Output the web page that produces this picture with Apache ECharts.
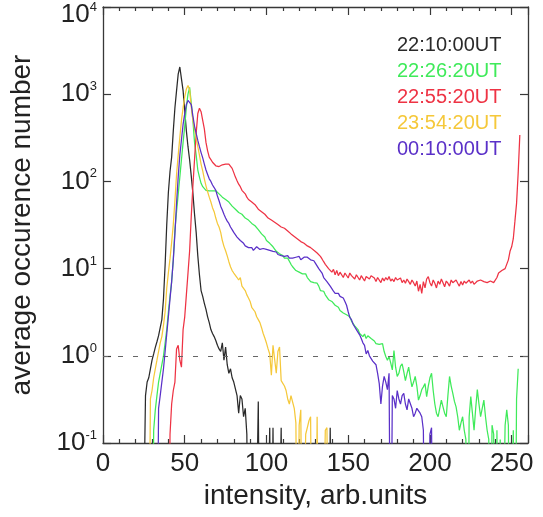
<!DOCTYPE html>
<html><head><meta charset="utf-8">
<script src="https://cdn.jsdelivr.net/npm/echarts@6/dist/echarts.min.js"></script>
<style>html,body{margin:0;padding:0;background:#fff}#c{width:543px;height:517px}</style>
</head><body><div id="c"></div>
<script>
// ---- data ----
const seriesNames = ['22:10:00UT', '22:26:20UT', '22:55:20UT', '23:54:20UT', '00:10:00UT'];
const seriesColors = ['#2a2a2a', '#3fea5a', '#ee3344', '#f5c83a', '#5a30c8'];
const xTickValues = [0, 50, 100, 150, 200, 250];
const yTickValues = [0.1, 1, 10, 100, 1000, 10000];

// value arrays: intensity = start + index ; 0 means "below 0.1" (off the plot)
const start2210 = 24;
const occ2210 = [0, 0, 0.35, 0.5, 0.56, 0.71, 0.89, 1.05, 1.25, 1.45, 1.7, 2.1, 2.6, 4.5, 11, 32, 75, 130, 190, 380,
  700, 1100, 1700, 2050, 1500, 1100, 650, 380, 250, 176, 115, 73, 42, 26, 14, 8.5, 5.6, 4.8, 4.0, 3.4,
  2.8, 2.4, 2.0, 1.8, 1.66, 1.5, 1.32, 1.2, 1.12, 1.41, 0.89, 1.26, 0.79, 0.63, 0.71, 0.56, 0.5, 0.48, 0.35, 0.22,
  0.35, 0.32, 0.2, 0.25, 0.126, 0, 0, 0, 0, 0, 0, 0.3, 0, 0, 0, 0, 0, 0, 0.15, 0,
  0.15, 0, 0, 0, 0, 0.15, 0, 0, 0, 0, 0, 0, 0, 0, 0, 0, 0, 0, 0, 0,
  0, 0, 0, 0, 0, 0, 0, 0, 0, 0, 0, 0, 0, 0, 0, 0.15, 0];

const start2226 = 30;
const occ2226 = [0, 0.14, 0.24, 0.35, 0.5, 0.63, 0.79, 1.0, 1.41, 2.0, 3.2, 4.8, 7.1, 12.6, 28, 45, 71, 112, 178, 280,
  430, 710, 1000, 1200, 790, 500, 280, 200, 135, 112, 95, 87, 83, 79, 79, 78, 79, 78, 76, 78,
  74, 72, 69, 66, 63, 62, 60, 58, 55, 52, 50, 48, 46, 44, 42, 42, 40, 38, 37, 36,
  35, 33, 32, 31, 30, 28, 27, 25, 24, 23, 21, 20, 19.5, 18.6, 17.8, 17, 15.8, 15.5, 14.8, 15.1,
  14.1, 13.2, 12.6, 13.2, 12.6, 11.2, 10.5, 10, 9.5, 9.8, 9.1, 9.3, 8.7, 8.9, 8.7, 7.9, 7.6, 7.1, 6.8, 6.9,
  6.6, 6.8, 6.3, 5.6, 5.4, 5.5, 5.0, 4.8, 4.4, 4.6, 4.2, 4.0, 3.8, 3.7, 3.6, 3.3, 3.2, 3.1, 3.2, 2.95,
  3.0, 2.8, 2.5, 2.4, 2.2, 2.14, 2.0, 1.8, 1.74, 1.66, 1.78, 1.58, 1.7, 1.66, 1.58, 1.66, 1.48, 1.38, 1.45, 1.35,
  1.41, 1.38, 1.12, 0.98, 0.89, 0.98, 0.83, 0.69, 1.15, 0.74, 0.58, 0.63, 0.76, 0.81, 0.66, 0.52, 0.63, 0.74, 0.56, 0.44,
  0.5, 0.58, 0.45, 0.31, 0.35, 0.41, 0.44, 0.48, 0.34, 0.45, 0.56, 0.63, 0.4, 0.28, 0.22, 0.2, 0.25, 0.31, 0.26, 0.22,
  0.2, 0.35, 0.58, 0.45, 0.37, 0.3, 0.26, 0.2, 0.14, 0.17, 0.2, 0.14, 0.11, 0, 0.2, 0.34, 0.22, 0.14, 0.25, 0.41,
  0.28, 0.2, 0.25, 0.31, 0.2, 0.14, 0.11, 0, 0.16, 0.126, 0, 0.14, 0, 0.11, 0, 0, 0.16, 0.24, 0.16, 0,
  0, 0.14, 0, 0.32, 0.71];

const start2255 = 40;
const occ2255 = [0, 0.126, 0.28, 0.4, 0.5, 1.2, 1.32, 0.89, 0.74, 2.0, 2.8, 5.0, 8.9, 16, 40, 89, 178, 355, 600, 690,
  630, 500, 400, 280, 224, 190, 178, 166, 158, 151, 148, 148, 151, 155, 158, 158, 155, 158, 151, 141,
  126, 112, 102, 93, 87, 79, 76, 72, 66, 62, 60, 58, 56, 54, 51, 48, 46, 45, 43, 42,
  40, 38, 37, 36, 35, 34, 33, 32, 31.6, 30, 29.5, 29, 28, 27, 26, 25, 24.5, 23.4, 22.4, 21.9,
  20.9, 20.4, 20, 19.5, 18.6, 18.2, 17.8, 17.4, 16.6, 16.2, 15.5, 15.1, 14.8, 13.8, 12.9, 12, 11.2, 10.7, 10, 10.5,
  9.1, 9.8, 8.5, 9.5, 8.3, 9.1, 8.7, 7.9, 8.9, 8.5, 7.8, 8.9, 8.3, 8.7, 7.6, 8.5, 8.1, 7.4, 8.3, 7.9,
  7.2, 8.1, 8.5, 7.6, 8.3, 8.7, 7.8, 7.1, 7.9, 7.6, 6.9, 7.8, 7.2, 7.9, 7.4, 8.1, 7.2, 7.6, 7.1, 7.9,
  7.4, 7.2, 7.8, 6.9, 7.4, 6.8, 7.6, 7.1, 6.6, 7.4, 6.9, 6.3, 7.2, 5.5, 6.6, 5.2, 7.1, 6.0, 7.6, 8.1,
  6.9, 6.3, 7.4, 6.8, 6.0, 7.2, 6.6, 7.6, 6.9, 6.2, 7.2, 6.8, 6.3, 7.4, 6.9, 6.6, 7.4, 6.8, 6.3, 7.1,
  6.5, 7.2, 6.8, 7.1, 7.4, 6.8, 7.2, 6.6, 6.9, 7.2, 7.1, 7.4, 7.2, 7.1, 7.2, 6.9, 7.1, 7.2, 7.1, 6.9,
  7.1, 7.9, 8.9, 8.5, 9.5, 9.3, 10, 10.5, 12.6, 15.8, 17.8, 22, 35, 56, 126, 340];

const start2354 = 28;
const occ2354 = [0, 0.32, 0.4, 0.56, 0.71, 0.89, 1.12, 1.41, 1.66, 2.24, 3.2, 6.0, 9.0, 13, 20, 32, 60, 120, 200, 320,
  500, 700, 930, 1150, 1260, 1120, 710, 500, 400, 316, 250, 200, 158, 132, 107, 89, 76, 66, 58, 50,
  45, 38, 33, 30, 26, 21, 18, 16, 14, 12, 10.5, 9.5, 8.9, 8.5, 7.9, 7.4, 7.9, 6.3, 6.0, 5.6,
  5.0, 4.6, 4.2, 3.6, 3.5, 3.2, 2.8, 2.6, 2.4, 2.1, 1.8, 1.6, 1.4, 1.2, 1.05, 0.6, 1.32, 1.38, 0.63, 1.12,
  1.26, 0.52, 0.5, 0.45, 0.4, 0.32, 0.28, 0.35, 0.34, 0.25, 0.17, 0, 0.16, 0.24, 0, 0, 0.126, 0.15, 0.18, 0.2,
  0, 0, 0, 0.2, 0, 0, 0, 0, 0.14, 0.15, 0];

const start0010 = 33;
const occ0010 = [0, 0.25, 0.35, 0.5, 0.71, 1.12, 1.78, 2.8, 4.5, 7.1, 12.6, 25, 56, 112, 200, 300, 450, 600, 760, 850,
  870, 760, 560, 430, 355, 295, 250, 214, 186, 158, 135, 120, 107, 100, 91, 85, 79, 68, 60, 52,
  47, 42, 38, 35, 33, 30, 28, 26, 25, 23, 22, 21, 20, 19.5, 18.2, 17.8, 17.4, 16.6, 17.4, 16.2,
  17, 17.8, 17.4, 16.6, 17.4, 17, 16.2, 16.6, 15.8, 16.2, 16.6, 15.8, 15.1, 15.5, 14.5, 14.8, 14.1, 14.5, 13.8, 13.5,
  14.1, 13.2, 13.8, 13.2, 12.9, 13.5, 13.2, 13.8, 12.6, 13.2, 13.5, 12.9, 13.5, 13.2, 12.6, 12, 12.3, 11.5, 11.2, 10,
  9.5, 8.9, 7.9, 7.6, 7.1, 6.8, 6.3, 5.9, 5.5, 5.2, 5.0, 5.2, 4.8, 5.0, 4.6, 4.2, 3.8, 3.2, 2.75, 2.6,
  2.3, 2.24, 2.0, 1.9, 1.74, 1.58, 1.41, 1.32, 1.05, 1.15, 1.0, 0.95, 0.87, 0.89, 0.79, 0.63, 0.48, 0.28, 0.45, 0.58,
  0.5, 0.41, 0.63, 0, 0.35, 0.32, 0.25, 0.4, 0.32, 0.28, 0.35, 0.37, 0.28, 0.24, 0.32, 0.31, 0.25, 0.2, 0.22, 0.25,
  0.26, 0.22, 0.2, 0.14, 0, 0, 0, 0.126, 0.15, 0];

const referenceLevel = 1; // dashed line at 10^0

// ---- build ----
const OFF_PLOT = 0.001; // log axis cannot show 0: send such points below the axis (clipped)
function toPairs(start, arr) {
  return arr.map((v, i) => [start + i, v > 0 ? v : OFF_PLOT]);
}
const seriesData = [
  toPairs(start2210, occ2210),
  toPairs(start2226, occ2226),
  toPairs(start2255, occ2255),
  toPairs(start2354, occ2354),
  toPairs(start0010, occ0010)
];

const FONT = 'Liberation Sans, Arial, sans-serif';
const axisColor = '#383838';

const series = seriesNames.map((name, k) => ({
  name: name,
  type: 'line',
  data: seriesData[k],
  xAxisIndex: 0,
  yAxisIndex: 0,
  showSymbol: false,
  symbol: 'none',
  clip: true,
  lineStyle: { color: seriesColors[k], width: 1.25 },
  itemStyle: { color: seriesColors[k] },
  emphasis: { disabled: true },
  animation: false,
  z: 2 + k
}));
series[0].markLine = {
  silent: true,
  symbol: ['none', 'none'],
  label: { show: false },
  lineStyle: { type: [5, 10], color: '#666', width: 1.1 },
  data: [{ yAxis: referenceLevel }],
  animation: false
};

const commonX = {
  type: 'value', min: 0, max: 260, interval: 50,
  splitLine: { show: false },
  axisLine: { show: true, onZero: false, lineStyle: { color: axisColor, width: 1.3 } },
  axisTick: { show: true, inside: true, length: 8, lineStyle: { color: axisColor, width: 1.2 } },
  minorTick: { show: true, splitNumber: 5, length: 4, lineStyle: { color: axisColor, width: 1.2 } }
};
const commonY = {
  type: 'log', logBase: 10, min: 0.1, max: 10000,
  splitLine: { show: false },
  axisLine: { show: true, onZero: false, lineStyle: { color: axisColor, width: 1.3 } },
  axisTick: { show: true, inside: true, length: 8, lineStyle: { color: axisColor, width: 1.2 } },
  minorTick: { show: false }
};

const option = {
  backgroundColor: '#fff',
  animation: false,
  textStyle: { fontFamily: FONT },
  grid: { left: 103, top: 7, right: 15, bottom: 74, outerBoundsMode: 'none', containLabel: false },
  legend: {
    orient: 'vertical',
    left: 387, top: 30,
    icon: 'none',
    itemWidth: 0, itemHeight: 20, itemGap: 5,
    selectedMode: false,
    textStyle: { fontSize: 20, fontFamily: FONT, lineHeight: 21 },
    data: seriesNames.map((n, k) => ({ name: n, textStyle: { color: seriesColors[k] } }))
  },
  xAxis: [
    Object.assign({}, commonX, {
      position: 'bottom',
      name: 'intensity, arb.units', nameLocation: 'middle', nameGap: 38,
      nameTextStyle: { fontSize: 28, color: '#222', fontFamily: FONT },
      axisLabel: {
        fontSize: 26, color: '#222', margin: 8, fontFamily: FONT, showMaxLabel: false,
        formatter: v => (xTickValues.indexOf(v) >= 0 ? String(v) : '')
      }
    }),
    Object.assign({}, commonX, { position: 'top', axisLabel: { show: false } })
  ],
  yAxis: [
    Object.assign({}, commonY, {
      position: 'left',
      name: 'average occurence number', nameLocation: 'middle', nameGap: 67, nameRotate: 90,
      nameTextStyle: { fontSize: 28, color: '#222', fontFamily: FONT },
      axisLabel: {
        margin: 6, color: '#222', fontFamily: FONT,
        formatter: v => {
          const e = Math.round(Math.log10(v));
          if (yTickValues.indexOf(Math.pow(10, e)) < 0) return '';
          // the top label sits a little lower, as in the reference
          return e === 4 ? '{bt|10}{st|' + e + '}' : '{b|10}{s|' + e + '}';
        },
        rich: {
          b: { fontSize: 26, color: '#222', fontFamily: FONT, lineHeight: 28 },
          s: { fontSize: 13, color: '#222', fontFamily: FONT, verticalAlign: 'top', lineHeight: 14 },
          bt: { fontSize: 26, color: '#222', fontFamily: FONT, lineHeight: 28, padding: [16, 0, 0, 0] },
          st: { fontSize: 13, color: '#222', fontFamily: FONT, lineHeight: 14 }
        }
      }
    }),
    Object.assign({}, commonY, { position: 'right', axisLabel: { show: false } })
  ],
  series: series
};

const chart = echarts.init(document.getElementById('c'), null, { renderer: 'canvas' });
chart.setOption(option);
</script>
</body></html>
